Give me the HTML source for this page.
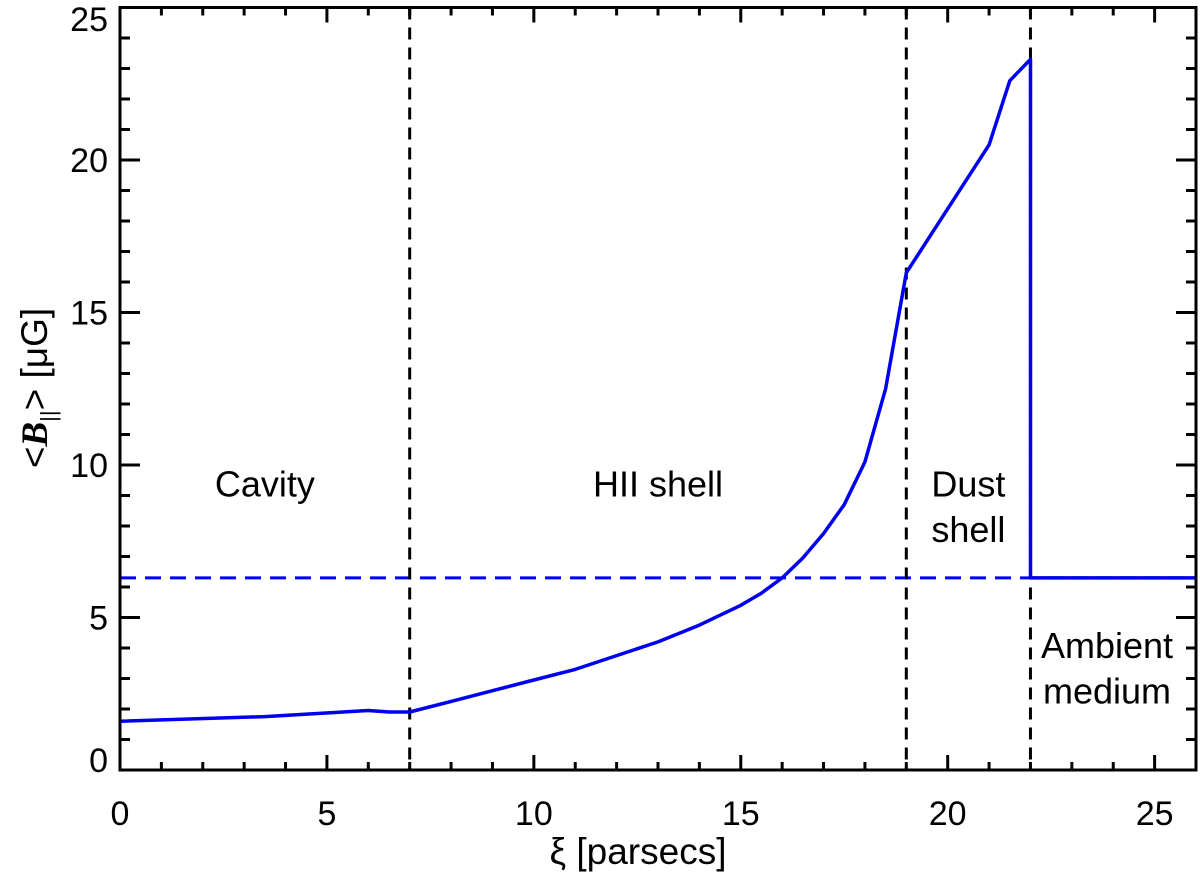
<!DOCTYPE html>
<html><head><meta charset="utf-8"><style>
body{margin:0;background:#fff}
text{font-family:"Liberation Sans",Helvetica,sans-serif}
</style></head><body>
<svg id="chart" width="1200" height="874" xmlns="http://www.w3.org/2000/svg">
<g id="plot"></g>
</svg>
<script>
const xs=[0,3.5,6,6.5,7,8,9,10,11,12,13,14,15,15.5,16,16.5,17,17.5,18,18.5,19,20,21,21.5,22,22,26];
const ys=[1.6,1.75,1.95,1.9,1.9,2.25,2.6,2.95,3.3,3.75,4.2,4.75,5.4,5.8,6.3,6.95,7.75,8.7,10.1,12.5,16.3,18.4,20.5,22.6,23.3,6.3,6.3];
const ambient=6.3;
const boundaries=[7,19,22];
const xTicks=[0,5,10,15,20,25];
const yTicks=[0,5,10,15,20,25];
const regionLabels=[["Cavity",3.5,9.4],["HII shell",13,9.4],["Dust",20.5,9.4],["shell",20.5,7.9],["Ambient",23.85,4.1],["medium",23.85,2.6]];
const X0=120,X1=1196,Y0=770,Y1=7.5;
const sx=v=>X0+(v/26)*(X1-X0);
const sy=v=>Y0-(v/25)*(Y0-Y1);
const NS="http://www.w3.org/2000/svg";
const g=document.getElementById('plot');
function mk(t,a,p){const e=document.createElementNS(NS,t);for(const k in a)e.setAttribute(k,a[k]);(p||g).appendChild(e);return e;}
for(let v=0;v<=26;v++){const L=v%5==0?15:8;
 let e=mk('line',{x1:sx(v),x2:sx(v),y1:Y0,y2:Y0-L,stroke:'#000','stroke-width':3});
 
 e=mk('line',{x1:sx(v),x2:sx(v),y1:Y1,y2:Y1+L,stroke:'#000','stroke-width':3});
 }
for(let v=0;v<=25;v++){const L=v%5==0?20:10;
 let e=mk('line',{x1:X0,x2:X0+L,y1:sy(v),y2:sy(v),stroke:'#000','stroke-width':3});
 
 e=mk('line',{x1:X1,x2:X1-L,y1:sy(v),y2:sy(v),stroke:'#000','stroke-width':3});
 }
xTicks.forEach(v=>{const t=mk('text',{x:sx(v),y:825,'text-anchor':'middle',style:'font-size:34px'});t.textContent=v;
 });
yTicks.forEach(v=>{const yy=Math.min(Math.max(sy(v)+12,31),772);
 const t=mk('text',{x:108,y:yy,'text-anchor':'end',style:'font-size:34px'});t.textContent=v;
 });
let h=mk('line',{x1:X0,x2:X1,y1:sy(ambient),y2:sy(ambient),stroke:'#0000ff','stroke-width':3,'stroke-dasharray':'16,9'});

boundaries.forEach(b=>{const e=mk('line',{x1:sx(b),x2:sx(b),y1:Y1,y2:Y0,stroke:'#000','stroke-width':3,'stroke-dasharray':'12,8'});
 });
let d=xs.map((x,i)=>(i?'L':'M')+sx(x).toFixed(1)+' '+sy(ys[i]).toFixed(1)).join(' ');
let p=mk('path',{d:d,fill:'none',stroke:'#0000ee','stroke-width':3.5,'stroke-linejoin':'round'});

regionLabels.forEach(r=>{const t=mk('text',{x:sx(r[1]),y:sy(r[2])+13,'text-anchor':'middle',style:'font-size:36px'});t.textContent=r[0];
 });
let fr=mk('rect',{x:X0,y:Y1,width:X1-X0,height:Y0-Y1,fill:'none',stroke:'#000','stroke-width':3});

let xt=mk('text',{x:638,y:864,'text-anchor':'middle',style:'font-size:37px'});xt.textContent='ξ [parsecs]';

let yt=mk('text',{x:0,y:0,'text-anchor':'middle',transform:'translate(47,388) rotate(-90)',style:'font-size:37px'});
yt.innerHTML='&lt;<tspan font-weight="bold" font-style="italic" font-family="Liberation Serif">B</tspan><tspan style="font-size:22px" dy="9">||</tspan><tspan dy="-9">&gt; [μG]</tspan>';

</script>
</body></html>
